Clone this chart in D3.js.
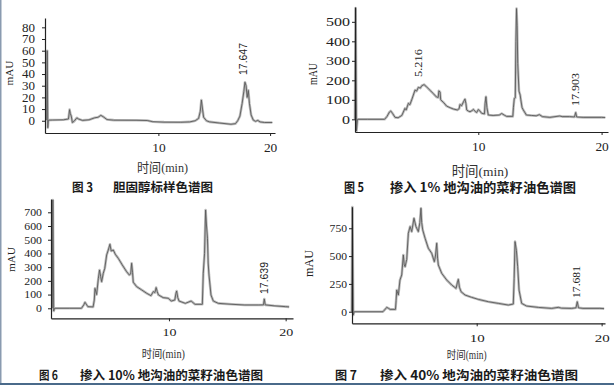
<!DOCTYPE html>
<html><head><meta charset="utf-8">
<script src="https://cdn.jsdelivr.net/npm/d3@7"></script>
<style>html,body{margin:0;padding:0;background:#fff;}svg{display:block;}</style>
</head><body>
<svg id="c" width="614" height="385"></svg>
<script>
// ---------------- data (time min, absorbance mAU) ----------------
const fig3Trace = [[0,0.5],[0.05,60],[0.1,-6],[0.15,0.5],[0.5,0.6],[1.5,0.8],[1.95,1.5],[2.05,9.5],[2.12,6],[2.2,4],[2.3,-1.5],[2.45,-0.5],[2.7,2.5],[2.85,1.5],[3.2,0.3],[3.8,0.8],[4.3,2.5],[4.6,3],[4.85,4.6],[5.05,3.5],[5.4,1],[6,0.5],[8,0.4],[9,0.2],[9.5,-0.8],[10.5,-1.2],[12,-1.3],[12.8,-1],[13.3,0],[13.6,2],[13.75,8],[13.85,17.7],[13.95,10],[14.05,3],[14.3,0],[14.6,-1],[15.5,-2],[16.5,-3],[16.9,-2.5],[17.1,0],[17.3,4],[17.5,15],[17.65,25],[17.75,33],[17.85,30],[17.95,20],[18.05,26],[18.15,15],[18.3,5],[18.5,0.5],[18.7,-0.5],[18.9,0.3],[19.1,-1],[19.5,-1.5],[20.2,-1.5]];
const fig5Trace = [[0,0],[0.05,570],[0.12,-60],[0.2,0],[1,0],[2.4,0],[2.6,15],[2.8,38],[2.9,43],[3.05,30],[3.25,10],[3.5,8],[3.8,20],[4.05,56],[4.15,48],[4.33,82],[4.45,75],[4.6,100],[4.87,150],[5,145],[5.14,164],[5.3,160],[5.41,172],[5.6,178],[5.75,170],[5.95,157],[6.15,145],[6.35,132],[6.6,115],[6.75,112],[6.8,146],[6.9,140],[6.95,100],[7.2,85],[7.43,68],[7.7,60],[7.97,53],[8.3,48],[8.45,55],[8.51,76],[8.65,70],[8.8,90],[8.92,104],[9,80],[9.06,48],[9.2,42],[9.33,39],[9.5,45],[9.6,51],[9.75,40],[9.87,35],[10,50],[10.1,45],[10.27,31],[10.5,28],[10.55,80],[10.62,116],[10.7,60],[10.81,22],[11.2,20],[11.7,22],[11.9,30],[12.1,22],[12.3,15],[12.8,15],[12.85,60],[12.92,107],[13,110],[13.05,400],[13.1,568],[13.15,480],[13.2,287],[13.3,145],[13.4,124],[13.45,100],[13.55,60],[13.65,48],[13.9,22],[14.3,20],[14.7,18],[14.95,24],[15.2,14],[15.8,10],[16.6,17],[16.8,14],[17.4,14],[17.8,12],[17.9,35],[17.98,12],[18.5,10],[20,10],[20.3,9]];
const fig6Trace = [[0,0],[0.05,790],[0.12,-20],[0.2,0],[1.5,0],[2.5,0],[2.7,25],[2.8,44],[2.95,25],[3.05,12],[3.5,10],[3.6,60],[3.66,145],[3.8,100],[3.95,218],[4.05,279],[4.15,230],[4.23,194],[4.37,255],[4.5,292],[4.66,389],[4.8,425],[4.94,467],[5.05,418],[5.23,425],[5.4,394],[5.66,364],[6,316],[6.37,267],[6.6,243],[6.72,250],[6.8,328],[6.88,260],[6.94,190],[7.23,158],[7.66,134],[8.1,109],[8.46,92],[8.66,122],[8.8,115],[8.9,151],[9,120],[9.1,97],[9.5,78],[9.94,73],[10.2,53],[10.5,60],[10.6,110],[10.66,126],[10.75,80],[10.86,53],[11.4,36],[11.9,53],[12.23,29],[12.86,29],[12.94,255],[13.05,400],[13.14,717],[13.22,600],[13.3,510],[13.36,330],[13.43,243],[13.6,97],[13.8,53],[14.23,36],[15.4,29],[16.5,24],[17.65,24],[18.1,25],[18.17,68],[18.25,25],[19,18],[20,12],[20.3,10]];
const fig7Trace = [[0,0],[0.05,940],[0.12,-30],[0.2,0],[2.5,0],[2.7,25],[2.8,39],[2.95,30],[3.07,21],[3.5,21],[3.55,100],[3.6,195],[3.73,150],[3.86,285],[4,330],[4.13,510],[4.2,420],[4.27,405],[4.4,470],[4.53,705],[4.67,765],[4.8,720],[4.98,840],[5.14,765],[5.33,720],[5.45,800],[5.54,930],[5.6,800],[5.68,735],[5.87,660],[6.13,570],[6.4,525],[6.61,450],[6.7,500],[6.8,615],[6.87,480],[6.93,420],[7.2,345],[7.6,285],[8,240],[8.35,210],[8.45,260],[8.53,291],[8.62,220],[8.75,180],[9.07,150],[9.6,129],[10.13,111],[10.93,90],[11.73,75],[12.53,60],[12.93,69],[13,300],[13.07,630],[13.18,550],[13.28,405],[13.39,195],[13.6,75],[14,51],[14.93,39],[16,30],[16.53,39],[16.8,32],[17.6,30],[17.95,35],[18.05,90],[18.15,35],[18.5,30],[19.86,30],[20.2,28]];

const fig3YTicks = [0,10,20,30,40,50,60,70,80];
const fig5YTicks = [0,100,200,300,400,500];
const fig6YTicks = [0,100,200,300,400,500,600,700];
const fig7YTicks = [0,250,500,750];
const xTickValues = [10,20];

const fig3Peaks = [{label:"17.647", t:17.57}];
const fig5Peaks = [{label:"5.216", t:5.11},{label:"17.903", t:17.84}];
const fig6Peaks = [{label:"17.639", t:18.14}];
const fig7Peaks = [{label:"17.681", t:17.94}];

const yTitle = "mAU";
const xTitle = "时间(min)";
const fig3Caption = ["图 3", "胆固醇标样色谱图"];
const fig5Caption = ["图 5", "掺入 1% 地沟油的菜籽油色谱图"];
const fig6Caption = ["图 6", "掺入 10% 地沟油的菜籽油色谱图"];
const fig7Caption = ["图 7", "掺入 40% 地沟油的菜籽油色谱图"];

// ---------------- layout ----------------
const panels = [
  {trace:fig3Trace, yTicks:fig3YTicks, peaks:fig3Peaks, caption:fig3Caption,
   xDom:[-0.15,20.44], yDom:[-10.5,88], xR:[45,275], yR:[133,18],
   yPad:7, xPad:8, fs:11.5, digitW:6.5, xDigitW:6.7,
   yTitle:{x:9, y:73, len:25, fs:11},
   xTitle:{x:162.5, y:172, len:51, fs:13},
   peakStyle:{bottom:[75], len:32, fs:10.5, font:"Liberation Sans"},
   cap:{y:192, fs:12.5, a:[72,21], b:[113,100]}},
  {trace:fig5Trace, yTicks:fig5YTicks, peaks:fig5Peaks, caption:fig5Caption,
   xDom:[0,20.52], yDom:[-65,576], xR:[355,608], yR:[132,7],
   yPad:2, xPad:7, fs:12, digitW:8, xDigitW:6.7,
   yTitle:{x:312.5, y:74, len:22, fs:11.5},
   xTitle:{x:480, y:175.5, len:56.7, fs:13.5},
   peakStyle:{bottom:[77,106], len:[28,33], fs:11, font:"Liberation Serif"},
   cap:{y:192, fs:13, a:[344,20], b:[390,186]}},
  {trace:fig6Trace, yTicks:fig6YTicks, peaks:fig6Peaks, caption:fig6Caption,
   xDom:[-0.11,20.63], yDom:[-73,797], xR:[51,293], yR:[318.3,199],
   yPad:6, xPad:7.5, fs:10.5, digitW:5.9, xDigitW:7,
   yTitle:{x:11, y:259.5, len:25, fs:11},
   xTitle:{x:163.3, y:358, len:43.3, fs:11.5},
   peakStyle:{bottom:[294], len:32, fs:10.5, font:"Liberation Sans"},
   cap:{y:380, fs:12.5, a:[39,19], b:[80,183]}},
  {trace:fig7Trace, yTicks:fig7YTicks, peaks:fig7Peaks, caption:fig7Caption,
   xDom:[0.02,20.27], yDom:[-104,941], xR:[352,605], yR:[323.3,207],
   yPad:2, xPad:7.5, fs:11, digitW:5.8, xDigitW:7.5,
   yTitle:{x:308.5, y:263.5, len:27, fs:11.5},
   xTitle:{x:466.7, y:359, len:40, fs:11.5},
   peakStyle:{bottom:[298], len:32, fs:10.5, font:"Liberation Serif"},
   cap:{y:380, fs:12.5, a:[335,22], b:[380,198]}}
];

const svg = d3.select("#c");
svg.append("rect").attr("width",614).attr("height",385).attr("fill","#fff");

const INK = "#222";
panels.forEach(p => {
  const g = svg.append("g");
  const x = d3.scaleLinear().domain(p.xDom).range(p.xR);
  const y = d3.scaleLinear().domain(p.yDom).range(p.yR);

  // trace
  const line = d3.line().x(d => x(d[0])).y(d => y(d[1]));
  g.append("path").datum(p.trace).attr("d", line)
    .attr("fill","none").attr("stroke","#bdbdbd").attr("stroke-width",2.6)
    .attr("stroke-linejoin","round");
  g.append("path").datum(p.trace).attr("d", line)
    .attr("fill","none").attr("stroke","#5a5a5a").attr("stroke-width",0.9)
    .attr("stroke-linejoin","round");

  // axes
  const ax = g.append("g").attr("transform",`translate(0,${p.yR[0]})`)
    .call(d3.axisBottom(x).tickValues(xTickValues).tickSize(3).tickSizeOuter(0).tickPadding(p.xPad));
  const ay = g.append("g").attr("transform",`translate(${p.xR[0]},0)`)
    .call(d3.axisLeft(y).tickValues(p.yTicks).tickSize(3).tickSizeOuter(0).tickPadding(p.yPad));
  [ax, ay].forEach(a => {
    a.select(".domain").attr("stroke",INK).attr("stroke-width",1.2);
    a.selectAll(".tick line").attr("stroke",INK);
    a.selectAll(".tick text").attr("fill",INK)
      .attr("font-family","Liberation Serif").attr("font-size",p.fs)
      .attr("lengthAdjust","spacingAndGlyphs");
  });
  ay.selectAll(".tick text").attr("textLength", d => String(d).length * p.digitW);
  ax.selectAll(".tick text").attr("textLength", d => String(d).length * p.xDigitW);

  // y title
  g.append("text").attr("transform",`translate(${p.yTitle.x},${p.yTitle.y}) rotate(-90)`)
    .attr("text-anchor","middle").attr("dy","0.35em")
    .attr("font-family","Liberation Serif").attr("font-size",p.yTitle.fs).attr("fill",INK)
    .attr("textLength",p.yTitle.len).attr("lengthAdjust","spacingAndGlyphs").text(yTitle);

  // x title
  g.append("text").attr("x",p.xTitle.x).attr("y",p.xTitle.y)
    .attr("text-anchor","middle")
    .attr("font-family","'Liberation Serif','Noto Sans CJK SC'").attr("font-size",p.xTitle.fs).attr("fill","#333")
    .attr("textLength",p.xTitle.len).attr("lengthAdjust","spacingAndGlyphs").text(xTitle);

  // peak labels
  p.peaks.forEach((pk,i) => {
    const len = Array.isArray(p.peakStyle.len) ? p.peakStyle.len[i] : p.peakStyle.len;
    g.append("text").attr("transform",`translate(${x(pk.t)},${p.peakStyle.bottom[i]}) rotate(-90)`)
      .attr("text-anchor","start").attr("dy","0.35em")
      .attr("font-family",p.peakStyle.font).attr("font-size",p.peakStyle.fs).attr("fill",INK)
      .attr("textLength",len).attr("lengthAdjust","spacingAndGlyphs").text(pk.label);
  });

  // caption
  g.append("text").attr("x",p.cap.a[0]).attr("y",p.cap.y)
    .attr("font-family","'Noto Sans CJK SC'").attr("font-weight","bold").attr("font-size",p.cap.fs).attr("fill","#1a1a1a")
    .attr("textLength",p.cap.a[1]).attr("lengthAdjust","spacingAndGlyphs").text(p.caption[0]);
  g.append("text").attr("x",p.cap.b[0]).attr("y",p.cap.y)
    .attr("font-family","'Noto Sans CJK SC'").attr("font-weight","bold").attr("font-size",p.cap.fs).attr("fill","#1a1a1a")
    .attr("textLength",p.cap.b[1]).attr("lengthAdjust","spacingAndGlyphs").text(p.caption[1]);
});

// frame edges
svg.append("rect").attr("x",0).attr("y",0).attr("width",1.5).attr("height",385).attr("fill","#8a9bb0");
svg.append("rect").attr("x",0).attr("y",383).attr("width",614).attr("height",2).attr("fill","#4a6a8a");
</script>
</body></html>
